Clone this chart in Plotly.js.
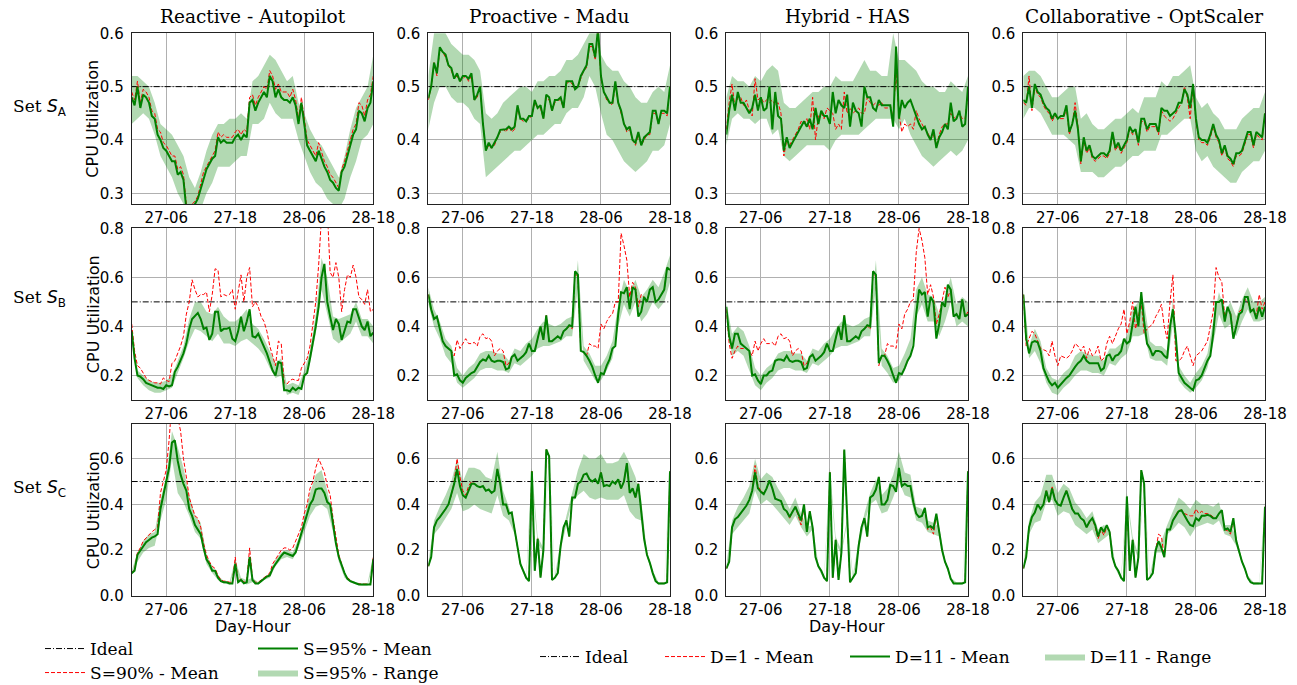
<!DOCTYPE html>
<html>
<head>
<meta charset="utf-8">
<script src="https://cdn.plot.ly/plotly-3.0.1.min.js"></script>
<style>html,body{margin:0;padding:0;background:#fff;}#chart{width:1297px;height:685px;}</style>
</head>
<body>
<div id="chart"></div>
<script>
// ---------------- DATA ----------------
const COLUMN_TITLES = ['Reactive - Autopilot', 'Proactive - Madu', 'Hybrid - HAS', 'Collaborative - OptScaler'];
const ROW_LABELS = ['A', 'B', 'C'];
const TICK_HOURS = [6, 18, 30, 42];
const TICK_LABELS = ['27-06', '27-18', '28-06', '28-18'];
const HOUR_SPAN = [0, 42];          // 27-00 .. 28-18
const IDEAL = 0.5;
const Y_RANGES = [[0.28, 0.6], [0.1, 0.8], [0, 0.75]];
const Y_TICKS = [[0.3, 0.4, 0.5, 0.6], [0.2, 0.4, 0.6, 0.8], [0, 0.2, 0.4, 0.6]];
const Y_TITLE = 'CPU Utilization';
const X_TITLE = 'Day-Hour';
const LEFT_NAMES = ['Ideal', 'S=90% - Mean', 'S=95% - Mean', 'S=95% - Range'];
const RIGHT_NAMES = ['Ideal', 'D=1 - Mean', 'D=11 - Mean', 'D=11 - Range'];

// Set S_A
const redA1 = [0.49,0.475,0.51,0.47,0.495,0.49,0.48,0.455,0.45,0.42, 0.415,0.395,0.39,0.38,0.37,0.37,0.345,0.35,0.335,0.28, 0.275,0.28,0.285,0.295,0.315,0.34,0.35,0.36,0.37,0.38, 0.415,0.405,0.41,0.405,0.405,0.405,0.415,0.42,0.41,0.42, 0.415,0.48,0.485,0.465,0.48,0.49,0.5,0.495,0.53,0.52, 0.495,0.505,0.49,0.49,0.49,0.48,0.495,0.475,0.44,0.48, 0.44,0.4,0.39,0.38,0.37,0.395,0.375,0.36,0.35,0.335, 0.33,0.32,0.31,0.345,0.36,0.38,0.4,0.42,0.43,0.47, 0.465,0.445,0.475,0.485,0.52];
const greenA1 = [0.48,0.465,0.50,0.46,0.485,0.48,0.47,0.445,0.44,0.41, 0.40,0.385,0.38,0.37,0.36,0.36,0.335,0.34,0.325,0.27, 0.27,0.275,0.28,0.29,0.31,0.33,0.345,0.355,0.365,0.37, 0.405,0.395,0.40,0.395,0.395,0.395,0.405,0.41,0.40,0.41, 0.405,0.47,0.475,0.455,0.47,0.48,0.49,0.48,0.52,0.51, 0.48,0.495,0.48,0.475,0.475,0.47,0.48,0.465,0.43,0.47, 0.43,0.39,0.38,0.37,0.36,0.38,0.365,0.35,0.34,0.325, 0.32,0.31,0.305,0.34,0.35,0.37,0.39,0.41,0.42,0.455, 0.45,0.435,0.46,0.47,0.51];
const loA1 = [0.43,0.44,0.45,0.44,0.41,0.37,0.35,0.33,0.30,0.28, 0.25,0.25,0.27,0.30,0.32,0.35,0.35,0.35,0.36,0.37, 0.37,0.43,0.43,0.44,0.47,0.45,0.44,0.44,0.44,0.40, 0.37,0.34,0.32,0.31,0.29,0.28,0.27,0.29,0.33,0.36, 0.40,0.41,0.43];
const hiA1 = [0.52,0.52,0.51,0.5,0.47,0.43,0.42,0.41,0.39,0.37, 0.33,0.31,0.34,0.38,0.41,0.43,0.43,0.44,0.44,0.45, 0.44,0.51,0.52,0.54,0.56,0.55,0.53,0.51,0.52,0.47, 0.45,0.42,0.40,0.39,0.37,0.35,0.33,0.37,0.42,0.46, 0.48,0.50,0.56];

const redA2 = [0.475,0.5,0.545,0.52,0.57,0.565,0.555,0.54,0.53,0.515, 0.52,0.51,0.515,0.52,0.51,0.52,0.475,0.48,0.5,0.43, 0.38,0.39,0.385,0.39,0.405,0.415,0.42,0.415,0.425,0.415, 0.42,0.46,0.44,0.435,0.435,0.44,0.445,0.47,0.46,0.46, 0.44,0.48,0.475,0.455,0.47,0.475,0.475,0.46,0.505,0.51, 0.505,0.495,0.5,0.515,0.53,0.535,0.575,0.575,0.55,0.605, 0.515,0.49,0.475,0.47,0.465,0.505,0.47,0.45,0.43,0.415, 0.42,0.4,0.39,0.41,0.39,0.4,0.41,0.41,0.45,0.45, 0.43,0.45,0.45,0.445,0.5];
const greenA2 = [0.478,0.50,0.545,0.525,0.574,0.565,0.56,0.54,0.535,0.515, 0.525,0.51,0.52,0.52,0.515,0.525,0.475,0.485,0.5,0.43, 0.38,0.395,0.385,0.395,0.405,0.419,0.42,0.42,0.425,0.42, 0.425,0.465,0.44,0.44,0.435,0.445,0.445,0.475,0.46,0.465, 0.44,0.485,0.48,0.455,0.475,0.475,0.48,0.46,0.51,0.51, 0.51,0.495,0.5,0.52,0.53,0.54,0.58,0.58,0.555,0.61, 0.52,0.49,0.48,0.47,0.47,0.51,0.47,0.455,0.43,0.42, 0.425,0.40,0.395,0.415,0.39,0.405,0.41,0.415,0.455,0.455, 0.43,0.455,0.455,0.45,0.5];
const loA2 = [0.42,0.47,0.5,0.5,0.48,0.47,0.47,0.46,0.44,0.43, 0.33,0.34,0.35,0.36,0.37,0.38,0.38,0.39,0.40,0.41, 0.41,0.42,0.43,0.43,0.45,0.46,0.46,0.48,0.52,0.5, 0.45,0.41,0.40,0.38,0.36,0.35,0.34,0.35,0.36,0.38, 0.38,0.39,0.43];
const hiA2 = [0.52,0.6,0.61,0.6,0.58,0.57,0.56,0.56,0.55,0.53, 0.45,0.44,0.45,0.47,0.48,0.49,0.5,0.5,0.49,0.51, 0.51,0.52,0.52,0.53,0.55,0.55,0.56,0.58,0.6,0.62, 0.56,0.54,0.53,0.53,0.51,0.5,0.48,0.47,0.47,0.49, 0.5,0.49,0.54];

const redA3 = [0.42,0.47,0.505,0.46,0.48,0.48,0.465,0.475,0.455,0.445, 0.515,0.475,0.48,0.47,0.475,0.47,0.475,0.465,0.47,0.45, 0.37,0.4,0.39,0.4,0.41,0.42,0.435,0.43,0.44,0.42, 0.48,0.4,0.445,0.45,0.44,0.46,0.455,0.45,0.42,0.43, 0.42,0.49,0.45,0.46,0.45,0.455,0.46,0.45,0.45,0.48, 0.47,0.465,0.47,0.465,0.47,0.46,0.46,0.465,0.44,0.53, 0.45,0.415,0.43,0.425,0.43,0.42,0.455,0.44,0.43,0.42, 0.415,0.4,0.41,0.39,0.41,0.425,0.43,0.43,0.45,0.44, 0.445,0.45,0.44,0.44,0.49];
const greenA3 = [0.41,0.455,0.485,0.455,0.49,0.47,0.47,0.46,0.45,0.46, 0.485,0.455,0.48,0.455,0.46,0.5,0.42,0.49,0.445,0.44, 0.38,0.405,0.385,0.395,0.405,0.415,0.425,0.435,0.425,0.44, 0.42,0.46,0.43,0.455,0.445,0.445,0.43,0.49,0.45,0.475, 0.465,0.46,0.485,0.425,0.47,0.455,0.45,0.425,0.5,0.48, 0.48,0.46,0.455,0.475,0.465,0.465,0.465,0.465,0.425,0.575, 0.44,0.475,0.46,0.47,0.475,0.46,0.445,0.43,0.42,0.425, 0.41,0.40,0.42,0.385,0.405,0.415,0.43,0.42,0.47,0.435, 0.44,0.455,0.425,0.43,0.5];
const loA3 = [0.39,0.44,0.45,0.44,0.44,0.43,0.44,0.44,0.41,0.42, 0.37,0.36,0.37,0.38,0.39,0.39,0.39,0.39,0.38,0.40, 0.41,0.41,0.41,0.41,0.42,0.43,0.44,0.44,0.44,0.44, 0.42,0.44,0.41,0.39,0.37,0.36,0.35,0.36,0.37,0.38, 0.37,0.38,0.40];
const hiA3 = [0.48,0.52,0.51,0.51,0.5,0.52,0.51,0.53,0.54,0.53, 0.47,0.46,0.46,0.47,0.48,0.49,0.49,0.5,0.5,0.52, 0.51,0.51,0.51,0.53,0.55,0.53,0.53,0.52,0.52,0.6, 0.55,0.55,0.54,0.53,0.51,0.5,0.5,0.49,0.49,0.51, 0.5,0.49,0.52];

const redA4 = [0.47,0.465,0.52,0.455,0.5,0.485,0.48,0.465,0.455,0.45, 0.435,0.445,0.44,0.44,0.44,0.46,0.41,0.43,0.47,0.425, 0.355,0.4,0.375,0.385,0.365,0.36,0.365,0.37,0.37,0.365, 0.375,0.41,0.38,0.39,0.375,0.385,0.395,0.42,0.41,0.415, 0.39,0.435,0.435,0.415,0.425,0.425,0.425,0.41,0.455,0.445, 0.44,0.435,0.44,0.45,0.46,0.47,0.5,0.48,0.44,0.5, 0.435,0.4,0.395,0.395,0.39,0.405,0.425,0.405,0.395,0.37, 0.385,0.365,0.36,0.35,0.37,0.37,0.375,0.395,0.41,0.41, 0.385,0.41,0.405,0.4,0.45];
const greenA4 = [0.475,0.47,0.5,0.46,0.505,0.49,0.485,0.47,0.46,0.455, 0.44,0.45,0.44,0.445,0.445,0.465,0.415,0.43,0.455,0.42, 0.36,0.405,0.38,0.39,0.37,0.365,0.37,0.375,0.375,0.37, 0.38,0.415,0.385,0.395,0.38,0.39,0.4,0.425,0.415,0.42, 0.395,0.44,0.44,0.42,0.43,0.43,0.43,0.415,0.46,0.455, 0.455,0.445,0.45,0.455,0.47,0.47,0.495,0.485,0.46,0.505, 0.44,0.405,0.4,0.4,0.395,0.41,0.43,0.41,0.4,0.375, 0.39,0.37,0.365,0.355,0.375,0.375,0.38,0.4,0.415,0.415, 0.39,0.415,0.41,0.405,0.45];
const loA4 = [0.44,0.46,0.46,0.45,0.43,0.41,0.41,0.41,0.40,0.39, 0.34,0.34,0.34,0.33,0.33,0.34,0.35,0.35,0.36,0.37, 0.37,0.38,0.38,0.38,0.41,0.41,0.42,0.43,0.44,0.44, 0.38,0.36,0.37,0.35,0.34,0.33,0.32,0.32,0.34,0.35, 0.36,0.36,0.38];
const hiA4 = [0.52,0.53,0.53,0.52,0.5,0.48,0.48,0.49,0.5,0.5, 0.44,0.45,0.43,0.42,0.42,0.43,0.44,0.44,0.45,0.46, 0.45,0.48,0.48,0.48,0.51,0.5,0.52,0.52,0.53,0.54, 0.48,0.46,0.47,0.45,0.44,0.42,0.42,0.42,0.44,0.45, 0.46,0.46,0.49];

// Set S_B
const redB1 = [0.41,0.3,0.24,0.23,0.21,0.19,0.18,0.175,0.17,0.17, 0.165,0.19,0.18,0.175,0.25,0.26,0.29,0.32,0.36,0.45, 0.5,0.59,0.55,0.52,0.53,0.53,0.54,0.46,0.53,0.635, 0.63,0.52,0.53,0.525,0.53,0.55,0.47,0.54,0.61,0.5, 0.6,0.64,0.48,0.5,0.48,0.44,0.42,0.38,0.32,0.28, 0.24,0.34,0.33,0.17,0.165,0.18,0.185,0.18,0.18,0.23, 0.25,0.27,0.32,0.4,0.5,0.65,0.85,0.9,0.88,0.62, 0.6,0.66,0.6,0.46,0.55,0.61,0.6,0.65,0.6,0.52, 0.51,0.49,0.55,0.46,0.47];
const greenB1 = [0.38,0.27,0.2,0.195,0.185,0.17,0.165,0.16,0.155,0.15, 0.15,0.145,0.16,0.155,0.16,0.215,0.235,0.26,0.29,0.33, 0.39,0.43,0.445,0.455,0.43,0.39,0.395,0.345,0.37,0.46, 0.46,0.38,0.39,0.39,0.395,0.35,0.34,0.38,0.44,0.38, 0.42,0.47,0.36,0.355,0.37,0.345,0.32,0.29,0.255,0.22, 0.2,0.255,0.25,0.14,0.14,0.135,0.15,0.14,0.15,0.145, 0.2,0.21,0.27,0.33,0.4,0.48,0.6,0.655,0.5,0.44, 0.385,0.43,0.41,0.345,0.38,0.42,0.415,0.47,0.47,0.43, 0.4,0.385,0.42,0.36,0.375];
const loB1 = [0.35,0.19,0.16,0.14,0.13,0.13,0.14,0.15,0.21,0.27, 0.34,0.39,0.38,0.36,0.34,0.37,0.33,0.33,0.32,0.34, 0.35,0.33,0.31,0.28,0.23,0.19,0.2,0.12,0.13,0.12, 0.18,0.25,0.37,0.55,0.45,0.35,0.33,0.35,0.37,0.42, 0.36,0.36,0.33];
const hiB1 = [0.4,0.22,0.2,0.18,0.17,0.17,0.18,0.2,0.26,0.32, 0.43,0.5,0.5,0.46,0.45,0.48,0.44,0.42,0.42,0.44, 0.47,0.41,0.39,0.35,0.3,0.25,0.27,0.16,0.17,0.16, 0.22,0.3,0.45,0.68,0.6,0.44,0.43,0.44,0.45,0.5, 0.43,0.43,0.4];

const redB2 = [0.53,0.47,0.43,0.44,0.39,0.34,0.32,0.31,0.3,0.28, 0.345,0.31,0.33,0.35,0.33,0.33,0.335,0.32,0.36,0.37, 0.35,0.355,0.34,0.28,0.3,0.31,0.3,0.24,0.25,0.275, 0.285,0.26,0.27,0.28,0.295,0.33,0.3,0.3,0.35,0.4, 0.345,0.445,0.34,0.34,0.35,0.36,0.35,0.38,0.39,0.4, 0.39,0.62,0.6,0.3,0.295,0.28,0.33,0.32,0.32,0.31, 0.41,0.39,0.42,0.44,0.45,0.5,0.5,0.78,0.73,0.67, 0.52,0.58,0.56,0.48,0.53,0.52,0.5,0.55,0.56,0.5, 0.51,0.53,0.55,0.64,0.63];
const greenB2 = [0.53,0.47,0.43,0.44,0.39,0.34,0.32,0.31,0.3,0.2, 0.205,0.18,0.17,0.19,0.2,0.21,0.215,0.235,0.255,0.265, 0.26,0.28,0.26,0.255,0.26,0.26,0.255,0.225,0.23,0.275, 0.285,0.26,0.27,0.28,0.295,0.33,0.3,0.3,0.35,0.4, 0.345,0.445,0.34,0.34,0.35,0.36,0.35,0.38,0.39,0.405, 0.4,0.625,0.61,0.3,0.295,0.28,0.26,0.235,0.2,0.17, 0.21,0.205,0.24,0.265,0.31,0.32,0.45,0.54,0.535,0.56, 0.47,0.56,0.55,0.44,0.46,0.52,0.5,0.55,0.56,0.5, 0.51,0.53,0.55,0.64,0.63];
const loB2 = [0.49,0.4,0.35,0.28,0.25,0.17,0.15,0.17,0.19,0.22, 0.23,0.23,0.22,0.22,0.21,0.25,0.24,0.26,0.28,0.31, 0.32,0.32,0.33,0.34,0.36,0.36,0.56,0.26,0.22,0.18, 0.18,0.22,0.27,0.4,0.49,0.44,0.5,0.42,0.45,0.5, 0.47,0.5,0.58];
const hiB2 = [0.56,0.47,0.42,0.35,0.32,0.23,0.2,0.23,0.25,0.29, 0.3,0.3,0.29,0.29,0.26,0.31,0.3,0.33,0.35,0.39, 0.42,0.41,0.4,0.41,0.43,0.44,0.67,0.32,0.29,0.24, 0.24,0.28,0.34,0.49,0.59,0.54,0.59,0.52,0.55,0.59, 0.56,0.62,0.69];

const redB3 = [0.47,0.33,0.27,0.3,0.32,0.31,0.31,0.31,0.3,0.28, 0.34,0.3,0.33,0.35,0.33,0.33,0.335,0.32,0.36,0.37, 0.35,0.355,0.34,0.28,0.3,0.31,0.3,0.24,0.25,0.275, 0.285,0.26,0.27,0.28,0.295,0.33,0.3,0.3,0.35,0.4, 0.345,0.445,0.34,0.34,0.35,0.36,0.35,0.38,0.39,0.4, 0.39,0.62,0.6,0.24,0.28,0.28,0.33,0.32,0.32,0.31, 0.41,0.39,0.45,0.47,0.5,0.51,0.7,0.8,0.75,0.68, 0.53,0.57,0.52,0.41,0.45,0.5,0.56,0.52,0.55,0.44, 0.45,0.43,0.51,0.44,0.46];
const greenB3 = [0.48,0.36,0.31,0.37,0.37,0.33,0.32,0.31,0.3,0.2, 0.205,0.18,0.165,0.2,0.2,0.215,0.22,0.26,0.265,0.265, 0.26,0.28,0.26,0.255,0.26,0.26,0.255,0.225,0.23,0.275, 0.285,0.26,0.27,0.28,0.295,0.33,0.3,0.3,0.35,0.4, 0.345,0.445,0.34,0.34,0.35,0.36,0.35,0.38,0.39,0.405, 0.4,0.625,0.61,0.25,0.28,0.28,0.26,0.235,0.2,0.17, 0.21,0.205,0.23,0.26,0.28,0.32,0.45,0.55,0.53,0.54, 0.44,0.52,0.5,0.35,0.41,0.5,0.48,0.57,0.55,0.44, 0.45,0.43,0.51,0.44,0.45];
const loB3 = [0.43,0.28,0.3,0.28,0.22,0.16,0.14,0.17,0.19,0.22, 0.23,0.23,0.22,0.22,0.21,0.25,0.24,0.26,0.28,0.31, 0.32,0.32,0.33,0.34,0.36,0.36,0.56,0.24,0.21,0.17, 0.18,0.22,0.28,0.44,0.49,0.42,0.42,0.36,0.42,0.5, 0.4,0.42,0.4];
const hiB3 = [0.5,0.37,0.4,0.38,0.32,0.23,0.2,0.23,0.25,0.29, 0.3,0.3,0.29,0.29,0.26,0.31,0.3,0.33,0.35,0.39, 0.42,0.41,0.4,0.41,0.43,0.44,0.67,0.31,0.28,0.23, 0.24,0.29,0.35,0.55,0.6,0.53,0.52,0.45,0.52,0.6, 0.49,0.52,0.5];

const redB4 = [0.53,0.32,0.35,0.38,0.37,0.34,0.31,0.305,0.3,0.28, 0.34,0.28,0.24,0.28,0.275,0.27,0.28,0.3,0.33,0.32, 0.3,0.32,0.27,0.31,0.28,0.29,0.32,0.26,0.27,0.33, 0.36,0.33,0.36,0.39,0.41,0.47,0.37,0.42,0.5,0.39, 0.44,0.5,0.37,0.39,0.4,0.41,0.44,0.46,0.49,0.4, 0.35,0.5,0.61,0.26,0.26,0.27,0.3,0.32,0.28,0.24, 0.28,0.29,0.3,0.32,0.34,0.4,0.46,0.64,0.6,0.58, 0.44,0.47,0.46,0.36,0.4,0.46,0.47,0.51,0.5,0.47, 0.46,0.45,0.53,0.47,0.5];
const greenB4 = [0.53,0.35,0.29,0.335,0.34,0.335,0.3,0.23,0.2,0.175, 0.16,0.17,0.15,0.165,0.175,0.19,0.2,0.22,0.235,0.25, 0.26,0.28,0.26,0.25,0.25,0.25,0.25,0.22,0.23,0.28, 0.285,0.26,0.28,0.285,0.3,0.35,0.33,0.34,0.415,0.48, 0.4,0.54,0.42,0.33,0.31,0.28,0.3,0.3,0.295,0.28, 0.27,0.4,0.47,0.36,0.21,0.19,0.17,0.16,0.15,0.14, 0.18,0.185,0.2,0.23,0.26,0.28,0.37,0.5,0.5,0.51, 0.42,0.48,0.45,0.35,0.4,0.45,0.46,0.52,0.52,0.46, 0.47,0.43,0.48,0.44,0.48];
const loB4 = [0.49,0.27,0.3,0.25,0.17,0.13,0.12,0.15,0.17,0.2, 0.22,0.22,0.21,0.21,0.2,0.25,0.24,0.27,0.29,0.36, 0.36,0.37,0.27,0.26,0.26,0.24,0.41,0.18,0.15,0.13, 0.15,0.18,0.23,0.33,0.45,0.39,0.41,0.36,0.42,0.47, 0.42,0.42,0.43];
const hiB4 = [0.56,0.32,0.39,0.34,0.23,0.19,0.18,0.21,0.23,0.28, 0.3,0.29,0.28,0.28,0.26,0.31,0.31,0.33,0.36,0.47, 0.5,0.5,0.34,0.32,0.32,0.3,0.51,0.24,0.2,0.17, 0.21,0.24,0.29,0.42,0.54,0.46,0.5,0.44,0.51,0.56, 0.5,0.5,0.52];

// Set S_C
const redC1 = [0.1,0.115,0.19,0.21,0.24,0.255,0.27,0.28,0.29,0.3, 0.45,0.5,0.55,0.68,0.85,0.88,0.78,0.72,0.6,0.52, 0.43,0.39,0.35,0.34,0.3,0.23,0.18,0.15,0.13,0.12, 0.09,0.07,0.065,0.065,0.06,0.06,0.17,0.065,0.075,0.06, 0.065,0.21,0.075,0.06,0.06,0.07,0.08,0.09,0.1,0.14, 0.16,0.18,0.2,0.21,0.21,0.2,0.21,0.24,0.27,0.3, 0.36,0.4,0.47,0.5,0.56,0.6,0.57,0.54,0.48,0.44, 0.34,0.25,0.18,0.14,0.1,0.08,0.07,0.06,0.055,0.052, 0.052,0.052,0.052,0.052,0.17];
const greenC1 = [0.1,0.11,0.18,0.2,0.22,0.235,0.245,0.255,0.26,0.27, 0.38,0.44,0.49,0.56,0.67,0.68,0.59,0.53,0.49,0.46, 0.38,0.35,0.31,0.29,0.27,0.21,0.16,0.14,0.11,0.11, 0.08,0.065,0.06,0.06,0.055,0.055,0.14,0.06,0.07,0.055, 0.06,0.17,0.07,0.055,0.055,0.065,0.075,0.085,0.09,0.12, 0.14,0.16,0.175,0.19,0.185,0.18,0.175,0.19,0.23,0.27, 0.31,0.35,0.4,0.42,0.465,0.47,0.47,0.45,0.41,0.4, 0.31,0.23,0.17,0.13,0.1,0.075,0.065,0.06,0.055,0.05, 0.05,0.05,0.05,0.05,0.16];
const loC1 = [0.09,0.15,0.19,0.21,0.22,0.33,0.42,0.6,0.45,0.41, 0.35,0.28,0.25,0.14,0.1,0.07,0.055,0.05,0.12,0.06, 0.05,0.06,0.05,0.07,0.08,0.13,0.16,0.17,0.16,0.21, 0.28,0.35,0.39,0.4,0.38,0.28,0.15,0.08,0.06,0.05, 0.045,0.045,0.14];
const hiC1 = [0.11,0.19,0.24,0.27,0.28,0.42,0.52,0.72,0.65,0.56, 0.44,0.35,0.32,0.18,0.13,0.09,0.065,0.06,0.16,0.08, 0.07,0.08,0.06,0.08,0.1,0.16,0.19,0.2,0.19,0.25, 0.34,0.45,0.53,0.55,0.46,0.34,0.18,0.1,0.07,0.06, 0.055,0.055,0.18];

const redC2 = [0.13,0.17,0.3,0.33,0.345,0.36,0.38,0.4,0.44,0.5, 0.6,0.52,0.46,0.44,0.48,0.5,0.49,0.48,0.475,0.48, 0.46,0.465,0.45,0.46,0.555,0.49,0.4,0.4,0.36,0.365, 0.29,0.22,0.14,0.11,0.08,0.065,0.545,0.11,0.25,0.08, 0.2,0.64,0.61,0.07,0.08,0.1,0.22,0.3,0.33,0.26, 0.43,0.43,0.49,0.5,0.53,0.535,0.51,0.5,0.51,0.49, 0.54,0.48,0.485,0.48,0.5,0.49,0.51,0.47,0.5,0.58, 0.45,0.47,0.43,0.49,0.37,0.25,0.18,0.145,0.1,0.065, 0.055,0.055,0.055,0.06,0.545];
const greenC2 = [0.13,0.17,0.3,0.33,0.345,0.36,0.38,0.4,0.44,0.49, 0.555,0.48,0.44,0.43,0.46,0.49,0.49,0.48,0.475,0.48, 0.46,0.465,0.45,0.46,0.555,0.49,0.4,0.4,0.36,0.365, 0.29,0.22,0.14,0.11,0.08,0.065,0.545,0.11,0.25,0.08, 0.2,0.64,0.61,0.07,0.08,0.1,0.22,0.3,0.33,0.26, 0.43,0.43,0.49,0.5,0.53,0.535,0.51,0.5,0.51,0.49, 0.54,0.48,0.485,0.48,0.5,0.49,0.51,0.47,0.5,0.58, 0.45,0.47,0.43,0.49,0.37,0.25,0.18,0.145,0.1,0.065, 0.055,0.055,0.055,0.06,0.545];
const loC2 = [0.12,0.27,0.3,0.34,0.38,0.45,0.37,0.38,0.4,0.38, 0.37,0.36,0.44,0.35,0.33,0.27,0.13,0.07,0.5,0.23, 0.19,0.6,0.07,0.2,0.31,0.41,0.44,0.46,0.43,0.42, 0.43,0.42,0.42,0.42,0.44,0.37,0.34,0.33,0.17,0.09, 0.05,0.05,0.53];
const hiC2 = [0.14,0.33,0.39,0.44,0.5,0.6,0.5,0.56,0.56,0.55, 0.52,0.51,0.63,0.46,0.39,0.31,0.15,0.09,0.56,0.26, 0.21,0.62,0.09,0.24,0.35,0.45,0.55,0.62,0.6,0.6, 0.62,0.58,0.58,0.59,0.63,0.58,0.52,0.42,0.19,0.11, 0.06,0.06,0.56];

const redC3 = [0.12,0.15,0.3,0.335,0.345,0.36,0.38,0.395,0.42,0.46, 0.57,0.48,0.46,0.45,0.47,0.505,0.47,0.425,0.42,0.415, 0.38,0.37,0.34,0.37,0.39,0.35,0.31,0.39,0.28,0.37, 0.3,0.17,0.13,0.11,0.08,0.065,0.54,0.08,0.245,0.07, 0.19,0.64,0.33,0.06,0.08,0.1,0.22,0.3,0.34,0.26, 0.43,0.44,0.465,0.52,0.4,0.4,0.42,0.485,0.48,0.455, 0.56,0.48,0.49,0.48,0.48,0.41,0.36,0.345,0.35,0.385, 0.29,0.3,0.27,0.35,0.28,0.2,0.15,0.12,0.075,0.055, 0.055,0.055,0.055,0.06,0.545];
const greenC3 = [0.12,0.15,0.3,0.335,0.345,0.36,0.38,0.395,0.42,0.46, 0.54,0.47,0.455,0.445,0.47,0.505,0.47,0.425,0.42,0.415, 0.38,0.37,0.345,0.37,0.39,0.36,0.33,0.4,0.28,0.37, 0.3,0.17,0.13,0.11,0.08,0.065,0.54,0.08,0.245,0.07, 0.19,0.64,0.33,0.06,0.08,0.1,0.22,0.3,0.34,0.26, 0.43,0.44,0.465,0.52,0.4,0.4,0.42,0.485,0.48,0.455, 0.56,0.48,0.49,0.48,0.48,0.41,0.36,0.345,0.35,0.385, 0.3,0.305,0.295,0.36,0.28,0.2,0.15,0.12,0.075,0.055, 0.055,0.055,0.055,0.06,0.545];
const loC3 = [0.11,0.27,0.3,0.33,0.36,0.46,0.4,0.42,0.4,0.37, 0.34,0.31,0.35,0.3,0.26,0.29,0.12,0.07,0.52,0.23, 0.18,0.32,0.07,0.2,0.32,0.4,0.42,0.36,0.37,0.43, 0.5,0.44,0.43,0.33,0.32,0.28,0.27,0.26,0.14,0.07, 0.05,0.05,0.53];
const hiC3 = [0.13,0.33,0.39,0.43,0.48,0.6,0.51,0.54,0.52,0.47, 0.43,0.38,0.43,0.36,0.3,0.31,0.14,0.09,0.56,0.26, 0.2,0.34,0.09,0.24,0.36,0.45,0.51,0.44,0.47,0.53, 0.63,0.54,0.53,0.39,0.38,0.33,0.32,0.3,0.16,0.08, 0.06,0.06,0.56];

const redC4 = [0.12,0.17,0.3,0.345,0.365,0.4,0.38,0.4,0.46,0.41, 0.48,0.42,0.4,0.395,0.43,0.46,0.42,0.38,0.36,0.36, 0.34,0.33,0.3,0.32,0.34,0.3,0.25,0.29,0.265,0.3, 0.28,0.17,0.13,0.11,0.08,0.065,0.435,0.11,0.245,0.08, 0.17,0.55,0.49,0.07,0.08,0.1,0.2,0.27,0.26,0.17, 0.29,0.29,0.33,0.355,0.375,0.375,0.36,0.355,0.35,0.35, 0.38,0.36,0.37,0.36,0.36,0.355,0.345,0.34,0.36,0.375, 0.29,0.285,0.27,0.33,0.24,0.19,0.15,0.12,0.08,0.06, 0.055,0.055,0.055,0.055,0.39];
const greenC4 = [0.12,0.17,0.3,0.345,0.365,0.4,0.38,0.4,0.46,0.41, 0.47,0.42,0.4,0.395,0.43,0.46,0.42,0.38,0.36,0.36, 0.34,0.33,0.3,0.325,0.34,0.31,0.26,0.3,0.28,0.31, 0.28,0.17,0.13,0.11,0.08,0.065,0.435,0.11,0.245,0.08, 0.17,0.55,0.49,0.07,0.08,0.1,0.2,0.24,0.21,0.17, 0.29,0.29,0.33,0.35,0.37,0.375,0.35,0.33,0.31,0.305, 0.34,0.33,0.35,0.35,0.355,0.35,0.34,0.34,0.36,0.375, 0.29,0.295,0.28,0.34,0.24,0.19,0.15,0.12,0.08,0.06, 0.055,0.055,0.055,0.055,0.39];
const loC4 = [0.11,0.27,0.32,0.33,0.41,0.42,0.35,0.37,0.36,0.31, 0.29,0.27,0.29,0.23,0.25,0.27,0.12,0.07,0.42,0.23, 0.16,0.48,0.07,0.19,0.19,0.27,0.29,0.32,0.3,0.26, 0.3,0.31,0.32,0.31,0.33,0.27,0.26,0.22,0.14,0.07, 0.05,0.05,0.37];
const hiC4 = [0.13,0.33,0.41,0.44,0.53,0.53,0.45,0.49,0.47,0.41, 0.38,0.34,0.37,0.29,0.31,0.29,0.14,0.09,0.45,0.26, 0.18,0.5,0.09,0.22,0.24,0.31,0.37,0.43,0.41,0.38, 0.42,0.4,0.4,0.39,0.41,0.31,0.31,0.26,0.16,0.09, 0.06,0.06,0.41];

// --------------- CHART ----------------
const PANELS = [
  [[redA1, greenA1, loA1, hiA1], [redA2, greenA2, loA2, hiA2], [redA3, greenA3, loA3, hiA3], [redA4, greenA4, loA4, hiA4]],
  [[redB1, greenB1, loB1, hiB1], [redB2, greenB2, loB2, hiB2], [redB3, greenB3, loB3, hiB3], [redB4, greenB4, loB4, hiB4]],
  [[redC1, greenC1, loC1, hiC1], [redC2, greenC2, loC2, hiC2], [redC3, greenC3, loC3, hiC3], [redC4, greenC4, loC4, hiC4]]
];

const W = 1297, H = 685;
const COL_PX = [[131.7, 373.3], [428.3, 670], [726.3, 968], [1023.3, 1265]];
const ROW_PX = [[33.3, 204], [228.3, 400], [424.3, 596]];
const GREEN = '#008000', RED = '#ff0000', BAND = 'rgba(0,128,0,0.3)';
const SANS = 'DejaVu Sans', SERIF = 'DejaVu Serif';

function hoursFor(arr) {
  const step = (HOUR_SPAN[1] - HOUR_SPAN[0]) / (arr.length - 1);
  return arr.map((_, i) => HOUR_SPAN[0] + i * step);
}

const traces = [];
const layout = {
  width: W, height: H, margin: {l: 0, r: 0, t: 0, b: 0, autoexpand: false},
  paper_bgcolor: '#fff', plot_bgcolor: '#fff', showlegend: true,
  font: {family: SANS, color: '#000'},
  annotations: [], hovermode: false
};

const legendIds = [['legend', 'legend2', 'legend3', 'legend4'], ['legend5', 'legend6', 'legend7', 'legend8']];
const legendPos = [[[45, 649], [45, 673], [258, 649], [258, 673]], [[540, 657], [665, 657], [850, 657], [1045, 657]]];
legendIds.forEach((grp, g) => grp.forEach((id, k) => {
  layout[id] = {
    x: (legendPos[g][k][0] - 5) / W, y: 1 - legendPos[g][k][1] / H,
    xanchor: 'left', yanchor: 'middle', bgcolor: 'rgba(0,0,0,0)', borderwidth: 0,
    font: {family: SERIF, size: 17, color: '#000'}, itemwidth: 40
  };
}));

for (let r = 0; r < 3; r++) {
  for (let c = 0; c < 4; c++) {
    const k = r * 4 + c + 1;
    const xa = 'x' + (k === 1 ? '' : k), ya = 'y' + (k === 1 ? '' : k);
    const [red, green, lo, hi] = PANELS[r][c];
    const names = c === 0 ? LEFT_NAMES : RIGHT_NAMES;
    const lg = c === 0 ? legendIds[0] : legendIds[1];
    const showLeg = (r === 0 && (c === 0 || c === 1));
    traces.push({x: hoursFor(lo), y: lo, xaxis: xa, yaxis: ya, type: 'scatter', mode: 'lines',
      line: {width: 0, color: BAND}, showlegend: false, hoverinfo: 'skip'});
    traces.push({x: hoursFor(hi), y: hi, xaxis: xa, yaxis: ya, type: 'scatter', mode: 'lines',
      fill: 'tonexty', fillcolor: BAND, line: {width: 0, color: BAND}, name: names[3],
      legend: lg[3], showlegend: showLeg});
    traces.push({x: HOUR_SPAN, y: [IDEAL, IDEAL], xaxis: xa, yaxis: ya, type: 'scatter', mode: 'lines',
      line: {color: '#000', width: 1, dash: '6px,2px,1px,2px'}, name: names[0], legend: lg[0], showlegend: showLeg});
    traces.push({x: hoursFor(red), y: red, xaxis: xa, yaxis: ya, type: 'scatter', mode: 'lines',
      line: {color: RED, width: 1, dash: '4px,2px'}, name: names[1], legend: lg[1], showlegend: showLeg});
    traces.push({x: hoursFor(green), y: green, xaxis: xa, yaxis: ya, type: 'scatter', mode: 'lines',
      line: {color: GREEN, width: 2}, name: names[2], legend: lg[2], showlegend: showLeg});

    const xKey = 'xaxis' + (k === 1 ? '' : k), yKey = 'yaxis' + (k === 1 ? '' : k);
    layout[xKey] = {
      domain: [COL_PX[c][0] / W, COL_PX[c][1] / W], anchor: ya, range: HOUR_SPAN,
      tickvals: TICK_HOURS, ticktext: TICK_LABELS, ticks: '', ticklabelstandoff: 0,
      showgrid: true, gridcolor: '#b0b0b0', gridwidth: 1, zeroline: false,
      showline: true, mirror: true, linecolor: '#222', linewidth: 1,
      tickfont: {family: SANS, size: 15, color: '#000'}, fixedrange: true, automargin: false
    };
    layout[yKey] = {
      domain: [1 - ROW_PX[r][1] / H, 1 - ROW_PX[r][0] / H], anchor: xa, range: Y_RANGES[r],
      tickvals: Y_TICKS[r], tickformat: '.1f', ticks: '', ticklabelstandoff: 4,
      showgrid: true, gridcolor: '#b0b0b0', gridwidth: 1, zeroline: false,
      showline: true, mirror: true, linecolor: '#222', linewidth: 1,
      tickfont: {family: SANS, size: 15, color: '#000'}, fixedrange: true, automargin: false
    };
  }
}

// Axis titles (as annotations for exact placement)
for (let r = 0; r < 3; r++) {
  layout.annotations.push({text: Y_TITLE, xref: 'paper', yref: 'paper', showarrow: false, textangle: -90,
    x: 93 / W, y: 1 - (ROW_PX[r][0] + ROW_PX[r][1]) / 2 / H, xanchor: 'center', yanchor: 'middle',
    font: {family: SANS, size: 16, color: '#000'}});
}
[0, 2].forEach(c => {
  layout.annotations.push({text: X_TITLE, xref: 'paper', yref: 'paper', showarrow: false,
    x: (COL_PX[c][0] + COL_PX[c][1]) / 2 / W, y: 1 - 626 / H, xanchor: 'center', yanchor: 'middle',
    font: {family: SANS, size: 16, color: '#000'}});
});

COLUMN_TITLES.forEach((t, c) => {
  layout.annotations.push({text: t, xref: 'paper', yref: 'paper', showarrow: false,
    x: (COL_PX[c][0] + COL_PX[c][1]) / 2 / W, y: 1 - 16 / H, xanchor: 'center', yanchor: 'middle',
    font: {family: SERIF, size: 18.5, color: '#000'}});
});
const ROW_LABEL_Y = [108, 298, 488];
ROW_LABELS.forEach((s, r) => {
  layout.annotations.push({
    text: 'Set <span style="font-family:\'DejaVu Sans\'"><i>S</i><sub>' + s + '</sub></span>',
    xref: 'paper', yref: 'paper', showarrow: false,
    x: 11 / W, y: 1 - ROW_LABEL_Y[r] / H, xanchor: 'left', yanchor: 'middle',
    font: {family: SERIF, size: 17, color: '#000'}});
});

Plotly.newPlot('chart', traces, layout, {displayModeBar: false, staticPlot: true});
</script>
</body>
</html>
